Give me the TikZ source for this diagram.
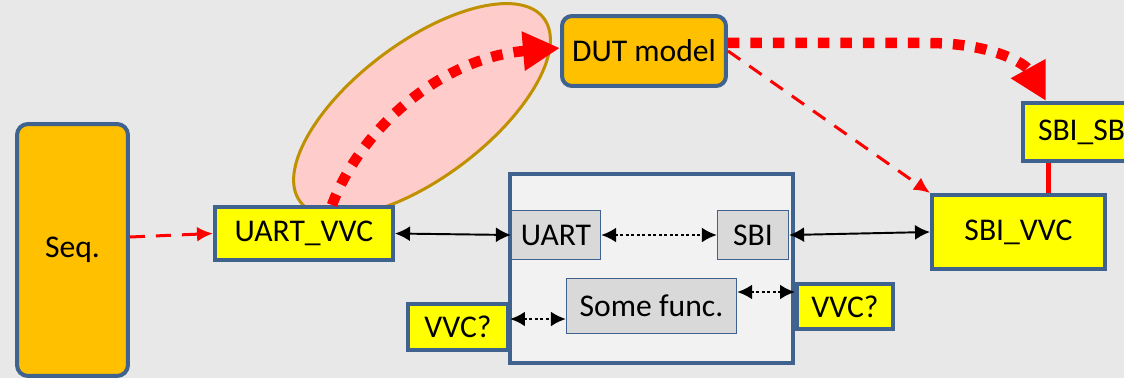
\documentclass[tikz,border=0pt]{standalone}
\usepackage{fontspec}
\setmainfont{Carlito}
\usepackage{xcolor}
\definecolor{uvblue}{HTML}{3F628F}
\definecolor{uvyellow}{HTML}{FFFF00}
\definecolor{uvorange}{HTML}{FFC000}
\definecolor{uvgray}{HTML}{D9D9D9}
\definecolor{uvpanel}{HTML}{F2F2F2}
\definecolor{uvbg}{HTML}{E8E8E8}
\definecolor{uvpink}{HTML}{FFCCCC}
\definecolor{uvgold}{HTML}{BF9000}
\definecolor{uvred}{HTML}{FF0000}
\usepackage{tikz}
\usetikzlibrary{shapes.geometric,arrows.meta}

\begin{document}
\begin{tikzpicture}[
      x=0.02cm, y=-0.02cm,
      font=\fontsize{18}{21}\selectfont,
      ybox/.style={draw=uvblue, fill=uvyellow, line width=0.08cm,
                   inner sep=0pt, align=center},
      obox/.style={draw=uvblue, fill=uvorange, line width=0.08cm,
                   rounded corners=0.22cm, inner sep=0pt, align=center},
      gbox/.style={draw=uvblue, fill=uvgray, line width=0.7pt, inner sep=0pt},
      dbl/.style={{Latex[length=0.3cm,width=0.3cm]}-{Latex[length=0.3cm,width=0.3cm]},
                  draw=black, line width=1.1pt},
      dotdbl/.style={dbl, line width=1.5pt, dash pattern=on 0.06cm off 0.05cm},
      rdash/.style={-{Latex[length=0.32cm,width=0.3cm]}, draw=uvred,
                    line width=0.06cm, dash pattern=on 0.3cm off 0.22cm},
      rdot/.style={-{Triangle[length=0.74cm,width=0.74cm]}, draw=uvred,
                   line width=0.21cm, dash pattern=on 0.23cm off 0.22cm},
    ]

    \fill[uvbg] (0,0) rectangle (1124,378);
    \useasboundingbox (0,0) rectangle (1124,378);

    % model zone
    \node[ellipse, draw=uvgold, fill=uvpink, line width=0.06cm, inner sep=0pt,
          minimum width=6.1cm, minimum height=2.7cm, rotate=37] (zone) at (422,110) {};

    \node[obox, minimum width=2.22cm, minimum height=5.04cm] (seq) at (72.5,250) {Seq.};
    \node[obox, rounded corners=0.2cm, minimum width=3.28cm, minimum height=1.4cm]
          (dut) at (644,51) {DUT model};
    \node[ybox, minimum width=3.56cm, minimum height=1.06cm] (uvvc) at (304,233.5) {UART\_VVC};

    % DUT block
    \node[draw=uvblue, fill=uvpanel, line width=0.08cm, minimum width=5.66cm,
          minimum height=3.78cm] (cont) at (651.5,268.5) {};
    \node[gbox, minimum width=1.78cm, minimum height=0.98cm] (uart) at (556,235) {UART};
    \node[gbox, minimum width=1.42cm, minimum height=0.98cm] (sbi)  at (753,235) {SBI};
    \node[gbox, minimum width=3.4cm,  minimum height=1.1cm]  (func) at (651.5,306) {Some func.};
    \node[ybox, minimum width=2.0cm,  minimum height=0.92cm] (vvcl) at (458,327) {VVC?};
    \node[ybox, minimum width=1.92cm, minimum height=0.9cm]  (vvcr) at (845,306.5) {VVC?};

    \node[ybox, minimum width=3.46cm, minimum height=1.48cm] (svvc) at (1018.5,232) {SBI\_VVC};
    \node[ybox, anchor=west, text width=2.0cm, inner xsep=0.3cm, align=left,
          minimum height=1.16cm] (ssb) at (1021,132) {SBI\_SB};

    \coordinate (ssbtop)  at ([xshift=0.5cm]ssb.north west);
    \coordinate (ssbfoot) at ([xshift=0.54cm]ssb.south west);
    \coordinate (lv) at ([yshift=0.16cm]vvcl.east);
    \coordinate (rf) at ([yshift=0.28cm]func.east);

    \draw[rdash] ([yshift=0.26cm]seq.east) -- (uvvc.west);
    \draw[rdot] ([xshift=0.56cm]uvvc.north) .. controls (360,130) and (440,58)
          .. ([yshift=0.06cm]dut.west);
    \draw[rdot] ([yshift=0.16cm]dut.east) -- ++(200,0)
          .. controls +(62,0) and +(-21,-38) .. (ssbtop);
    \draw[rdash] (dut.east) -- (svvc.north west);
    \draw[uvred, line width=0.1cm] (ssbfoot) -- (ssbfoot |- svvc.north);

    \draw[dbl] (uvvc.east) -- (uart.west);
    \draw[dbl] (sbi.east) -- (svvc.west);
    \draw[dotdbl] (uart.east) -- (sbi.west);
    \draw[dotdbl] (lv) -- (lv -| func.west);
    \draw[dotdbl] (rf) -- (rf -| vvcr.west);

  \end{tikzpicture}
\end{document}
